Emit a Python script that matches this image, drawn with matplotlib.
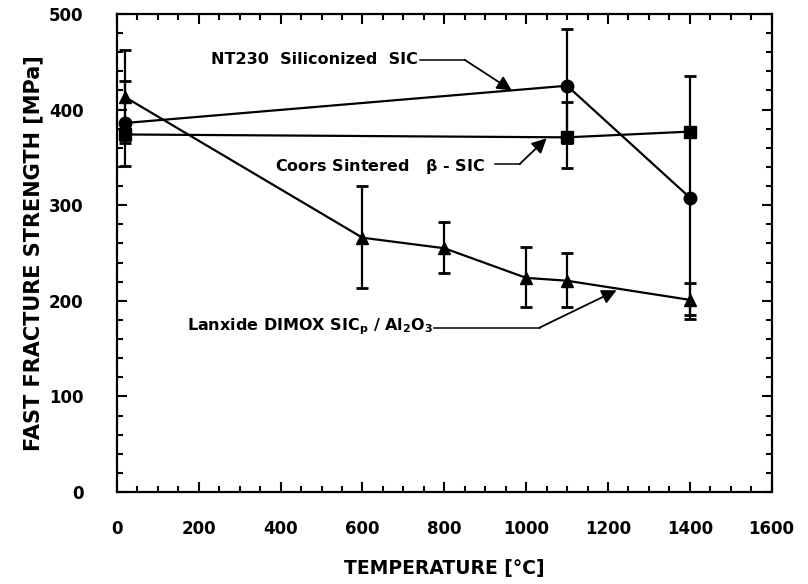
import matplotlib
matplotlib.use('Agg')
import matplotlib.pyplot as plt
from matplotlib.ticker import MultipleLocator

# NT230 Siliconized SiC (circles)
nt_t = [20, 1100, 1400]
nt_s = [386, 425, 308]
nt_lo = [45, 60, 127]
nt_hi = [44, 59, 127]

# Coors Sintered beta-SiC (squares)
co_t = [20, 1100, 1400]
co_s = [374, 371, 377]
co_lo = [6, 32, 0]
co_hi = [6, 37, 0]

# Lanxide DIMOX SiCp/Al2O3 (triangles)
la_t = [20, 600, 800, 1000, 1100, 1400]
la_s = [413, 266, 255, 224, 221, 201]
la_lo = [48, 53, 26, 30, 27, 16]
la_hi = [49, 54, 27, 32, 29, 18]

plt.rcParams['font.family'] = ['DejaVu Sans']
plt.rcParams['font.weight'] = 'bold'
plt.rcParams['mathtext.default'] = 'bf'

fig = plt.figure(figsize=(8.08, 5.84), dpi=100)
ax = fig.add_axes([0.1448, 0.1575, 0.8102, 0.8185])

style = dict(color='k', lw=1.6, ms=9, elinewidth=1.6, capsize=4, capthick=2)
ax.errorbar(nt_t, nt_s, yerr=[nt_lo, nt_hi], fmt='-o', **style)
ax.errorbar(co_t, co_s, yerr=[co_lo, co_hi], fmt='-s', **style)
ax.errorbar(la_t, la_s, yerr=[la_lo, la_hi], fmt='-^', **style)

ax.set_xlim(0, 1600)
ax.set_ylim(0, 500)
ax.xaxis.set_major_locator(MultipleLocator(200))
ax.xaxis.set_minor_locator(MultipleLocator(50))
ax.yaxis.set_major_locator(MultipleLocator(100))
ax.yaxis.set_minor_locator(MultipleLocator(20))
ax.tick_params(which='both', direction='in', top=True, right=True, width=1.5)
ax.tick_params(which='major', length=7, labelsize=12)
ax.tick_params(which='minor', length=4)
ax.tick_params(axis='x', which='major', pad=20)
ax.tick_params(axis='y', which='major', pad=24)
for sp in ax.spines.values():
    sp.set_linewidth(1.6)

ax.set_xlabel('TEMPERATURE [°C]', fontsize=13.5, fontweight='bold', labelpad=15)
ax.set_ylabel('FAST FRACTURE STRENGTH [MPa]', fontsize=15, fontweight='bold', labelpad=4)

arrow = dict(arrowstyle='-|>', color='k', lw=1.3, mutation_scale=22, shrinkA=0, shrinkB=0)
txt = dict(fontsize=11.5, fontweight='bold', va='center', ha='right')

# NT230 label
ax.text(735, 452, 'NT230  Siliconized  SIC', **txt)
ax.plot([740, 850], [452, 452], color='k', lw=1.1)
ax.annotate('', xy=(965, 420), xytext=(850, 452), arrowprops=arrow)

# Coors label
ax.text(899, 341, r'Coors Sintered   $\beta$ - SIC', **txt)
ax.plot([923, 984], [343, 343], color='k', lw=1.1)
ax.annotate('', xy=(1050, 370), xytext=(984, 343), arrowprops=arrow)

# Lanxide label
ax.text(772, 173, r'Lanxide DIMOX SIC$_\mathbf{p}$ / Al$_\mathbf{2}$O$_\mathbf{3}$', **txt)
ax.plot([775, 1033], [172, 172], color='k', lw=1.1)
ax.annotate('', xy=(1221, 211), xytext=(1033, 172), arrowprops=arrow)

fig.savefig('out.png', dpi=100)
